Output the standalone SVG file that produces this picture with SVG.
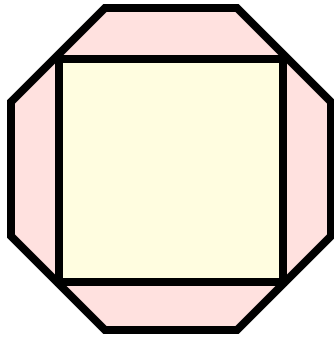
<svg xmlns="http://www.w3.org/2000/svg" width="334" height="340" viewBox="0 0 334 340">
<style>
.shape{stroke:#000;stroke-width:8;stroke-linejoin:miter}
.oct{fill:#ffe1df}
.sq{fill:#fffde0}
</style>
<rect width="334" height="340" fill="#fff"/>
<g id="octagon"><polygon class="shape oct" points="105,8 237,8 331,102 331,236 237,330 105,330 11,236 11,102"/></g>
<g id="square"><rect class="shape sq" x="59" y="59" width="224" height="223"/></g>
<g id="connectors"/>
</svg>
